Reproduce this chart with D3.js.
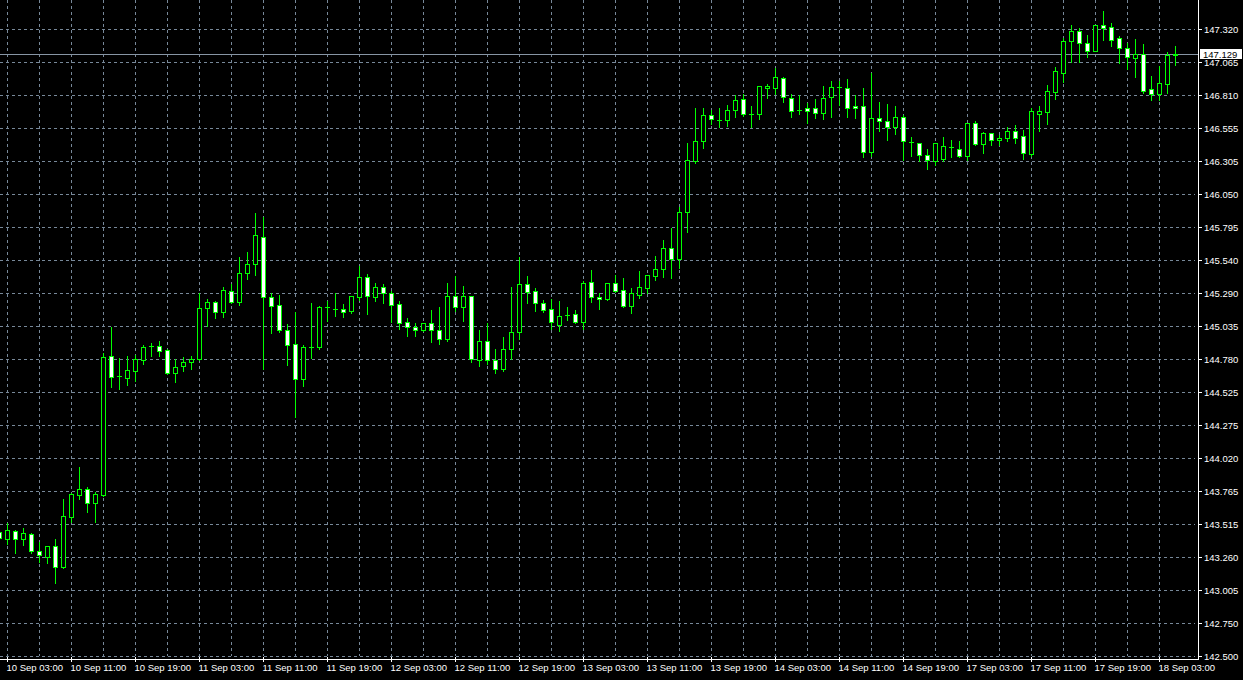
<!DOCTYPE html>
<html><head><meta charset="utf-8">
<script src="https://cdn.jsdelivr.net/npm/d3@7"></script>
<style>html,body{margin:0;padding:0;background:#000;overflow:hidden}svg{display:block}</style>
</head><body>
<svg id="chart" width="1243" height="680"></svg>
<script>
// hourly candles, index -1 .. 146 (index 0 = 10 Sep 03:00)
const firstIndex = -1;
const opens = [143.449,143.400,143.459,143.400,143.436,143.303,143.259,143.341,143.185,143.569,143.738,143.780,143.677,143.738,144.802,144.645,144.638,144.692,144.776,144.876,144.879,144.848,144.672,144.725,144.761,144.779,145.176,145.217,145.145,145.302,145.222,145.443,145.512,145.722,145.258,145.194,145.002,144.895,144.625,144.874,144.876,145.176,145.166,145.164,145.153,145.260,145.412,145.260,145.333,145.291,145.204,145.064,145.028,145.007,145.056,145.007,144.938,145.264,145.184,145.264,144.774,144.918,144.774,144.707,144.861,144.987,145.356,145.304,145.210,145.164,145.045,145.122,145.125,145.068,145.371,145.260,145.243,145.363,145.312,145.191,145.276,145.328,145.423,145.471,145.633,145.550,145.909,146.306,146.455,146.655,146.619,146.617,146.694,146.778,146.663,146.663,146.863,146.863,146.940,146.786,146.690,146.709,146.709,146.671,146.794,146.867,146.863,146.725,146.725,146.371,146.637,146.614,146.563,146.640,146.444,146.440,146.352,146.306,146.319,146.411,146.398,146.340,146.594,146.432,146.517,146.463,146.481,146.532,146.494,146.360,146.668,146.683,146.837,146.983,147.224,147.301,147.209,147.152,147.347,147.332,147.247,147.170,147.098,147.129,146.855,146.817,146.898,147.120];
const highs = [143.467,143.518,143.467,143.482,143.444,143.377,143.343,143.397,143.703,143.749,143.949,143.797,143.757,144.825,145.025,144.787,144.805,144.810,144.889,144.905,144.920,144.856,144.779,144.795,144.805,145.291,145.243,145.227,145.333,145.358,145.562,145.604,145.902,145.871,145.291,145.271,145.051,145.143,144.887,145.212,145.189,145.230,145.291,145.202,145.266,145.497,145.435,145.363,145.358,145.304,145.225,145.094,145.056,145.058,145.158,145.179,145.366,145.420,145.343,145.266,145.004,145.056,144.856,144.948,145.335,145.566,145.420,145.325,145.235,145.243,145.227,145.181,145.156,145.379,145.466,145.287,145.366,145.427,145.402,145.325,145.458,145.427,145.573,145.696,145.789,145.952,146.440,146.711,146.711,146.696,146.711,146.735,146.811,146.817,146.727,146.881,146.896,147.017,146.952,146.819,146.811,146.752,146.778,146.878,146.917,146.919,146.932,146.811,146.863,146.978,146.758,146.742,146.727,146.655,146.486,146.442,146.394,146.442,146.486,146.465,146.455,146.596,146.611,146.527,146.519,146.501,146.563,146.581,146.542,146.709,146.727,146.888,147.027,147.247,147.350,147.329,147.273,147.350,147.457,147.365,147.265,147.209,147.242,147.201,146.957,147.034,147.142,147.184];
const lows = [143.390,143.361,143.292,143.354,143.288,143.223,143.215,143.061,143.177,143.530,143.705,143.605,143.530,143.728,144.564,144.548,144.582,144.610,144.745,144.807,144.807,144.666,144.607,144.692,144.707,144.774,145.037,145.099,145.107,145.210,145.197,145.397,145.430,144.702,144.981,144.991,144.732,144.333,144.576,144.789,144.861,145.074,145.114,145.107,145.133,145.237,145.130,145.230,145.214,145.066,145.014,144.961,144.961,144.999,144.912,144.899,144.922,145.151,145.074,144.761,144.725,144.741,144.672,144.692,144.784,144.933,145.210,145.153,145.145,145.010,144.999,145.084,145.058,145.010,145.222,145.164,145.235,145.294,145.181,145.137,145.250,145.291,145.389,145.412,145.407,145.483,145.760,146.291,146.406,146.586,146.565,146.575,146.645,146.652,146.568,146.629,146.791,146.817,146.760,146.640,146.668,146.596,146.637,146.627,146.645,146.732,146.645,146.637,146.337,146.345,146.535,146.468,146.512,146.314,146.345,146.306,146.245,146.271,146.306,146.332,146.332,146.309,146.427,146.363,146.425,146.425,146.454,146.445,146.322,146.342,146.537,146.591,146.783,146.914,147.067,147.067,147.106,147.150,147.237,147.191,147.060,147.009,146.950,146.829,146.773,146.773,146.829,147.042];
const closes = [143.403,143.464,143.395,143.444,143.303,143.272,143.341,143.180,143.572,143.741,143.780,143.677,143.741,144.795,144.641,144.651,144.697,144.782,144.871,144.878,144.845,144.672,144.720,144.761,144.779,145.171,145.217,145.145,145.310,145.222,145.443,145.512,145.733,145.258,145.191,145.002,144.891,144.625,144.871,144.872,145.179,145.178,145.168,145.145,145.264,145.412,145.264,145.333,145.291,145.199,145.056,145.025,145.007,145.056,145.007,144.938,145.264,145.184,145.264,144.779,144.918,144.774,144.702,144.856,144.987,145.356,145.299,145.210,145.156,145.064,145.110,145.120,145.068,145.363,145.260,145.243,145.363,145.307,145.191,145.289,145.333,145.425,145.474,145.633,145.550,145.909,146.309,146.458,146.655,146.625,146.621,146.694,146.771,146.663,146.665,146.878,146.878,146.947,146.794,146.686,146.692,146.691,146.671,146.786,146.871,146.869,146.709,146.709,146.371,146.632,146.609,146.568,146.640,146.455,146.446,146.352,146.312,146.440,146.417,146.413,146.340,146.594,146.432,146.517,146.463,146.478,146.532,146.483,146.368,146.686,146.686,146.840,146.994,147.224,147.301,147.209,147.152,147.347,147.329,147.237,147.170,147.106,147.124,146.844,146.817,146.901,147.119,147.129];
const priceTicks = [147.320,147.065,146.810,146.555,146.305,146.050,145.795,145.540,145.290,145.035,144.780,144.525,144.275,144.020,143.765,143.515,143.260,143.005,142.750,142.500];
const timeLabels = ["10 Sep 03:00","10 Sep 11:00","10 Sep 19:00","11 Sep 03:00","11 Sep 11:00","11 Sep 19:00","12 Sep 03:00","12 Sep 11:00","12 Sep 19:00","13 Sep 03:00","13 Sep 11:00","13 Sep 19:00","14 Sep 03:00","14 Sep 11:00","14 Sep 19:00","17 Sep 03:00","17 Sep 11:00","17 Sep 19:00","18 Sep 03:00"];
const barsPerLabel = 8;
const barsPerGrid = 4;
const lastPrice = 147.129;

const W = 1243, H = 680;
const axisX = 1198, axisY = 659;
const green = "#00ff00", gridCol = "#778899";
const FONT = "'Liberation Sans', Arial, sans-serif";

const svg = d3.select("#chart");
svg.append("rect").attr("width", W).attr("height", H).attr("fill", "#000");

const x = d3.scaleLinear().domain([0, 1]).range([7, 15]);
const y = d3.scaleLinear().domain([142.5, 147.32]).range([655.7, 28.8]);

const candles = opens.map((o, k) => ({i: firstIndex + k, o, h: highs[k], l: lows[k], c: closes[k]}));
const lastIdx = firstIndex + opens.length - 1;

svg.append("defs").append("clipPath").attr("id", "plot")
  .append("rect").attr("x", 0).attr("y", 0).attr("width", axisX).attr("height", axisY);

const g = svg.append("g").attr("clip-path", "url(#plot)").attr("shape-rendering", "crispEdges");

// vertical grid
const gridIdx = d3.range(0, lastIdx + 1, barsPerGrid).filter(i => x(i) < axisX - 3);
g.selectAll("line.vg").data(gridIdx).join("line")
  .attr("x1", i => Math.round(x(i)) + 0.5).attr("x2", i => Math.round(x(i)) + 0.5)
  .attr("y1", 0).attr("y2", Math.round(y(142.5)))
  .attr("stroke", gridCol).attr("stroke-dasharray", "3,3");
// horizontal grid
g.selectAll("line.hg").data(priceTicks).join("line")
  .attr("x1", 0).attr("x2", axisX - 3)
  .attr("y1", d => Math.round(y(d)) + 0.5).attr("y2", d => Math.round(y(d)) + 0.5)
  .attr("stroke", gridCol).attr("stroke-dasharray", "3,3");

// last price line
g.append("line").attr("x1", 0).attr("x2", axisX)
  .attr("y1", Math.round(y(lastPrice)) + 0.5).attr("y2", Math.round(y(lastPrice)) + 0.5)
  .attr("stroke", "#8795a4");

// candles
const cg = g.selectAll("g.c").data(candles).join("g");
cg.append("line")
  .attr("x1", d => Math.round(x(d.i)) + 0.5).attr("x2", d => Math.round(x(d.i)) + 0.5)
  .attr("y1", d => Math.round(y(d.h))).attr("y2", d => Math.round(y(d.l)) + 1)
  .attr("stroke", green);
cg.each(function(d) {
  const sel = d3.select(this);
  const cx = Math.round(x(d.i));
  const yo = y(d.o), yc = y(d.c);
  if (Math.abs(yo - yc) < 1) {
    const yy = Math.round(yc) + 0.5;
    sel.append("line").attr("x1", cx - 2).attr("x2", cx + 3).attr("y1", yy).attr("y2", yy).attr("stroke", green);
  } else {
    const top = Math.round(Math.min(yo, yc)), bot = Math.round(Math.max(yo, yc));
    sel.append("rect").attr("x", cx - 1.5).attr("width", 4)
      .attr("y", top + 0.5).attr("height", bot - top)
      .attr("fill", d.c > d.o ? "#000" : "#fff").attr("stroke", green);
  }
});

// axes lines
svg.append("line").attr("x1", axisX + 0.5).attr("x2", axisX + 0.5).attr("y1", 0).attr("y2", axisY + 1)
  .attr("stroke", "#fff").attr("shape-rendering", "crispEdges");
svg.append("line").attr("x1", 0).attr("x2", axisX + 1).attr("y1", axisY + 0.5).attr("y2", axisY + 0.5)
  .attr("stroke", "#fff").attr("shape-rendering", "crispEdges");

// price axis labels (the one hidden by the last-price box is drawn first)
const pa = svg.append("g");
pa.selectAll("line").data(priceTicks).join("line")
  .attr("x1", axisX).attr("x2", axisX + 4)
  .attr("y1", d => Math.round(y(d)) + 0.5).attr("y2", d => Math.round(y(d)) + 0.5)
  .attr("stroke", "#fff").attr("shape-rendering", "crispEdges");
pa.selectAll("text").data(priceTicks).join("text")
  .attr("x", 1204).attr("y", d => Math.round(y(d)) + 4)
  .attr("fill", "#fff").attr("font-family", FONT).attr("font-size", "9.5px")
  .text(d => d.toFixed(3));

// time axis labels
const ta = svg.append("g");
const labIdx = timeLabels.map((t, k) => ({t, i: k * barsPerLabel}));
ta.selectAll("line").data(labIdx).join("line")
  .attr("x1", d => Math.round(x(d.i)) + 0.5).attr("x2", d => Math.round(x(d.i)) + 0.5)
  .attr("y1", axisY - 2).attr("y2", axisY + 3)
  .attr("stroke", "#fff").attr("shape-rendering", "crispEdges");
ta.selectAll("text").data(labIdx).join("text")
  .attr("x", d => Math.round(x(d.i)) - 0.5).attr("y", 671)
  .attr("fill", "#fff").attr("font-family", FONT).attr("font-size", "9.5px")
  .text(d => d.t);

// last price box
const ly = Math.round(y(lastPrice));
svg.append("rect").attr("x", axisX + 2).attr("y", ly - 5).attr("width", 42).attr("height", 10)
  .attr("fill", "#fff").attr("shape-rendering", "crispEdges");
svg.append("text").attr("x", 1203).attr("y", ly + 3.5)
  .attr("fill", "#000").attr("font-family", FONT).attr("font-size", "9.5px")
  .text(lastPrice.toFixed(3));
</script>
</body></html>
